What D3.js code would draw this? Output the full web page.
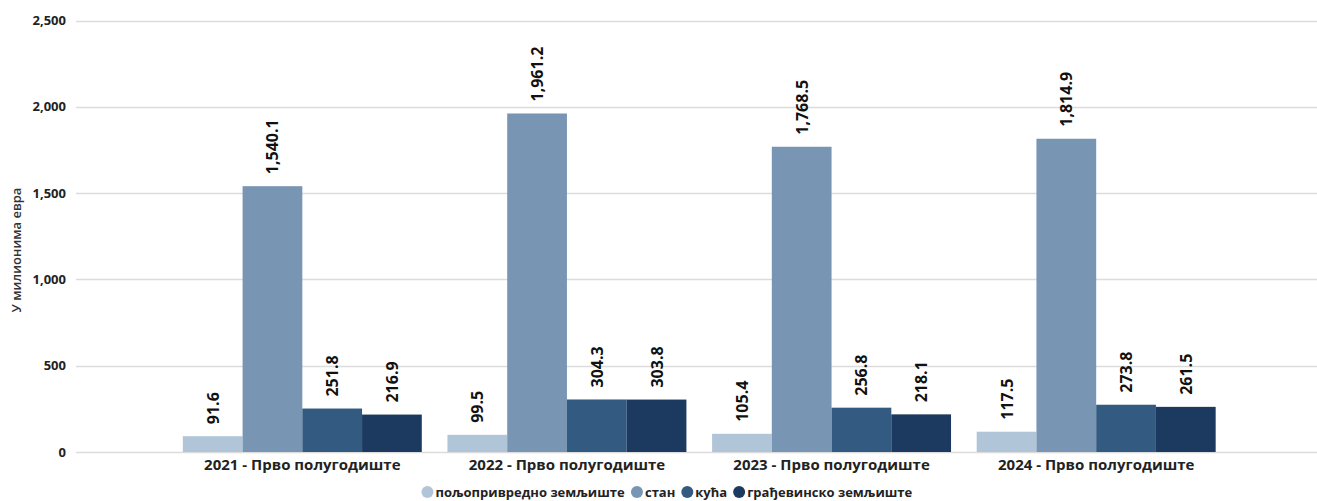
<!DOCTYPE html>
<html>
<head>
<meta charset="utf-8">
<script src="https://cdn.jsdelivr.net/npm/d3@7"></script>
<style>
  html, body { margin: 0; padding: 0; background: #fff; }
  svg { display: block; font-family: "Open Sans", "Noto Sans", sans-serif; }
</style>
</head>
<body>
<svg id="chart" width="1317" height="501"></svg>
<script>
// Periods on the category axis
const categories = ["2021 - Прво полугодиште", "2022 - Прво полугодиште", "2023 - Прво полугодиште", "2024 - Прво полугодиште"];
// Property types (series)
const seriesNames = ["пољопривредно земљиште", "стан", "кућа", "грађевинско земљиште"];
// Values in millions of euros, one array per series
const agriculturalLand = [91.6, 99.5, 105.4, 117.5];
const apartment = [1540.1, 1961.2, 1768.5, 1814.9];
const house = [251.8, 304.3, 256.8, 273.8];
const buildingLand = [216.9, 303.8, 218.1, 261.5];
const seriesValues = [agriculturalLand, apartment, house, buildingLand];
const seriesColors = ["#b1c5d8", "#7895b4", "#335b82", "#1c3a5f"];
const yTicks = [0, 500, 1000, 1500, 2000, 2500];
const yTitle = "У милионима евра";

const svg = d3.select("#chart");
const W = 1317;
const plotLeft = 76, plotRight = 1317;

const y = d3.scaleLinear().domain([0, 2500]).range([452, 20.5]);

const x0 = d3.scaleBand()
  .domain(categories)
  .range([170, 1228.5])
  .paddingInner(0.097)
  .paddingOuter(0.0485);

const x1 = d3.scaleBand()
  .domain(d3.range(seriesNames.length))
  .range([0, x0.bandwidth()])
  .padding(0);

// Horizontal grid lines
svg.append("g")
  .selectAll("line")
  .data(yTicks)
  .join("line")
  .attr("x1", plotLeft)
  .attr("x2", plotRight)
  .attr("y1", d => Math.round(y(d)) + 0.5)
  .attr("y2", d => Math.round(y(d)) + 0.5)
  .attr("stroke", "#dcdcdc")
  .attr("stroke-width", 1.5);

// Y axis tick labels
const yAxis = d3.axisLeft(y).tickValues(yTicks).tickFormat(d3.format(",")).tickSize(0).tickPadding(0);
const yAxisG = svg.append("g")
  .attr("transform", `translate(66,0)`)
  .call(yAxis);
yAxisG.select(".domain").remove();
yAxisG.selectAll("text")
  .attr("font-family", "'Open Sans', sans-serif")
  .attr("font-size", 13)
  .attr("font-weight", 700)
  .attr("fill", "#222");

// Y axis title
svg.append("text")
  .attr("transform", `translate(21,250) rotate(-90)`)
  .attr("text-anchor", "middle")
  .attr("font-size", 13)
  .attr("font-weight", 600)
  .attr("fill", "#333")
  .text(yTitle);

// Bars
const groups = svg.append("g")
  .selectAll("g")
  .data(categories)
  .join("g")
  .attr("transform", d => `translate(${x0(d)},0)`);

const cells = groups.selectAll("g")
  .data((c, ci) => seriesValues.map((vals, si) => ({ si, v: vals[ci] })))
  .join("g");

cells.append("rect")
  .attr("x", d => x1(d.si))
  .attr("width", x1.bandwidth())
  .attr("y", d => y(d.v))
  .attr("height", d => y(0) - y(d.v))
  .attr("fill", d => seriesColors[d.si]);

// Rotated value labels above each bar
cells.append("text")
  .attr("transform", d => `translate(${x1(d.si) + x1.bandwidth() / 2 + 6},${y(d.v) - 12}) rotate(-90)`)
  .attr("text-anchor", "start")
  .attr("font-size", 16)
  .attr("font-weight", 700)
  .attr("fill", "#111")
  .text(d => d3.format(",.1f")(d.v));

// Category axis labels
const xAxis = d3.axisBottom(x0).tickSize(0).tickPadding(0);
const xAxisG = svg.append("g")
  .attr("transform", `translate(0,470)`)
  .call(xAxis);
xAxisG.select(".domain").remove();
xAxisG.selectAll("text")
  .attr("dy", 0)
  .attr("font-family", "'Open Sans', sans-serif")
  .attr("font-size", 15)
  .attr("font-weight", 700)
  .attr("fill", "#222");

// Legend
const legend = svg.append("g").attr("transform", "translate(0,497)");
const items = legend.selectAll("g")
  .data(seriesNames)
  .join("g");
items.append("circle")
  .attr("r", 6)
  .attr("cy", -5)
  .attr("fill", (d, i) => seriesColors[i]);
items.append("text")
  .attr("x", 8)
  .attr("font-size", 13)
  .attr("font-weight", 700)
  .attr("fill", "#222")
  .text(d => d);

let cursor = 0;
const positions = [];
items.each(function () {
  const w = this.getBBox().width;
  positions.push(cursor + 6);
  cursor += w + 6;
});
const totalW = cursor - 6;
const startX = (431 + 903) / 2 - totalW / 2;
items.attr("transform", (d, i) => `translate(${startX + positions[i]},0)`);
</script>
</body>
</html>
